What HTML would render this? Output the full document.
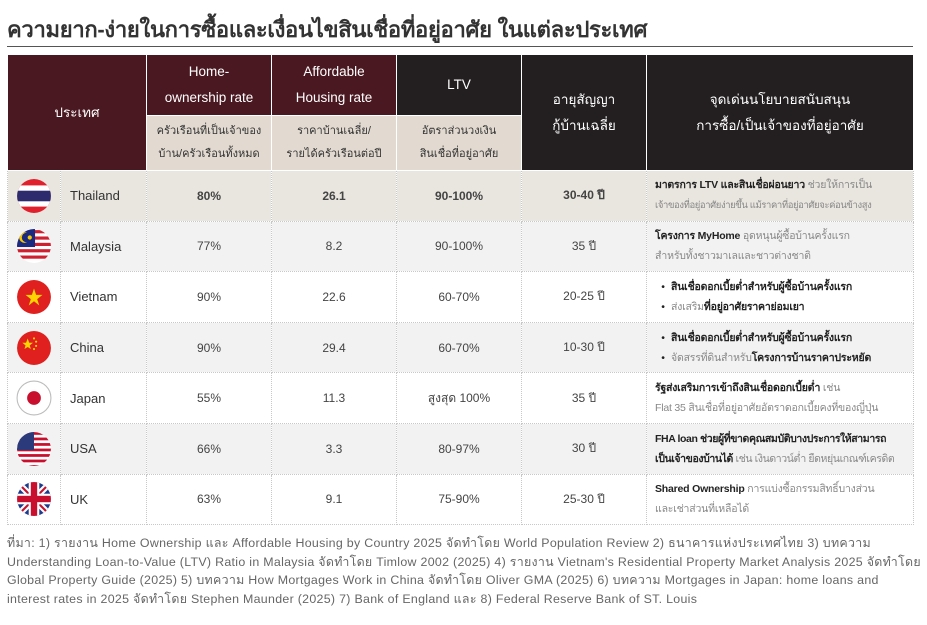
<!DOCTYPE html>
<html><head><meta charset="utf-8">
<style>
body{margin:0;width:927px;height:625px;background:#fff;font-family:"Liberation Sans","Noto Sans CJK SC",sans-serif;color:#333;position:relative;overflow:hidden}
.title{position:absolute;left:7px;top:12px;font-size:22px;font-weight:bold;color:#333;letter-spacing:-0.3px;white-space:nowrap}
.rule{position:absolute;left:7px;top:46px;width:906px;height:1px;background:#555}
table{position:absolute;left:7px;top:54px;border-collapse:collapse;table-layout:fixed;width:906px}
td{border:1px dotted #c8c8c8;text-align:center;font-size:12px;color:#444;padding:0;overflow:hidden;white-space:nowrap}
.hm{background:#4a1820;color:#fff;font-size:13.5px;line-height:26px;border:1px solid #fff}
.hd{background:#231f20;color:#fff;font-size:13.5px;line-height:26px;border:1px solid #fff}
.sub{background:#e2dad0;color:#333;font-size:11px;line-height:23px;border:1px solid #fff}
tr.r td{height:49.6px}
.pol{text-align:left;padding-left:8px;font-size:10.5px;line-height:20px;color:#888;letter-spacing:-0.2px}
.pol b{color:#222}
.th td{background:#e9e5df}
.g td{background:#f2f2f2}
.bul{display:block}
.bul:before{content:"•";color:#222;display:inline-block;width:16px;text-align:center}
.foot{position:absolute;left:7px;top:534px;width:918px;font-size:12.4px;letter-spacing:0.3px;line-height:18.7px;color:#666;white-space:nowrap}
svg{display:block;margin:auto}
.cn{text-align:left;padding-left:9px;color:#333;font-size:13px}
</style></head><body>
<div class="title">ความยาก-ง่ายในการซื้อและเงื่อนไขสินเชื่อที่อยู่อาศัย ในแต่ละประเทศ</div>
<div class="rule"></div>
<table>
<colgroup><col style="width:53px"><col style="width:86px"><col style="width:125px"><col style="width:125px"><col style="width:125px"><col style="width:125px"><col style="width:267px"></colgroup>
<tr style="height:61px"><td class="hm" colspan="2" rowspan="2">ประเทศ</td><td class="hm">Home-<br>ownership rate</td><td class="hm">Affordable<br>Housing rate</td><td class="hd">LTV</td><td class="hd" rowspan="2">อายุสัญญา<br>กู้บ้านเฉลี่ย</td><td class="hd" rowspan="2">จุดเด่นนโยบายสนับสนุน<br>การซื้อ/เป็นเจ้าของที่อยู่อาศัย</td></tr>
<tr style="height:55px"><td class="sub">ครัวเรือนที่เป็นเจ้าของ<br>บ้าน/ครัวเรือนทั้งหมด</td><td class="sub">ราคาบ้านเฉลี่ย/<br>รายได้ครัวเรือนต่อปี</td><td class="sub">อัตราส่วนวงเงิน<br>สินเชื่อที่อยู่อาศัย</td></tr>
<tr class="r th"><td><svg width="36" height="36" viewBox="0 0 34 34"><defs><clipPath id="c1"><circle cx="17" cy="17" r="16"/></clipPath></defs><g clip-path="url(#c1)"><rect width="34" height="34" fill="#e0202c"/><rect y="7" width="34" height="20" fill="#fff"/><rect y="12" width="34" height="10" fill="#2d2a6e"/></g></svg></td><td class="cn">Thailand</td><td><b>80%</b></td><td><b>26.1</b></td><td><b>90-100%</b></td><td><b>30-40 ปี</b></td><td class="pol"><b>มาตรการ LTV และสินเชื่อผ่อนยาว</b> ช่วยให้การเป็น<br><span style="font-size:9.5px;letter-spacing:-0.4px">เจ้าของที่อยู่อาศัยง่ายขึ้น แม้ราคาที่อยู่อาศัยจะค่อนข้างสูง</span></td></tr>
<tr class="r g"><td><svg width="36" height="36" viewBox="0 0 34 34"><defs><clipPath id="c2"><circle cx="17" cy="17" r="16"/></clipPath></defs><g clip-path="url(#c2)"><rect width="34" height="34" fill="#fff"/><rect y="2" width="34" height="3" fill="#d02030"/><rect y="8" width="34" height="3" fill="#d02030"/><rect y="14" width="34" height="3" fill="#d02030"/><rect y="20" width="34" height="3" fill="#d02030"/><rect y="26" width="34" height="3" fill="#d02030"/><rect width="18" height="18" fill="#1a2a80"/><circle cx="8" cy="9" r="5" fill="#f5c800"/><circle cx="10" cy="9" r="4.5" fill="#1a2a80"/><circle cx="13" cy="9" r="2" fill="#f5c800"/></g></svg></td><td class="cn">Malaysia</td><td>77%</td><td>8.2</td><td>90-100%</td><td>35 ปี</td><td class="pol"><b>โครงการ MyHome</b> อุดหนุนผู้ซื้อบ้านครั้งแรก<br>สำหรับทั้งชาวมาเลและชาวต่างชาติ</td></tr>
<tr class="r"><td><svg width="36" height="36" viewBox="0 0 34 34"><circle cx="17" cy="17" r="16" fill="#e0201e"/><polygon points="17,9 19,15 25,15 20,19 22,25 17,21 12,25 14,19 9,15 15,15" fill="#ffd400"/></svg></td><td class="cn">Vietnam</td><td>90%</td><td>22.6</td><td>60-70%</td><td>20-25 ปี</td><td class="pol"><span class="bul"><b>สินเชื่อดอกเบี้ยต่ำสำหรับผู้ซื้อบ้านครั้งแรก</b></span><span class="bul">ส่งเสริม<b>ที่อยู่อาศัยราคาย่อมเยา</b></span></td></tr>
<tr class="r g"><td><svg width="36" height="36" viewBox="0 0 34 34"><circle cx="17" cy="17" r="16" fill="#e0201e"/><polygon points="11,8 12.5,12 16,12 13,14.5 14,18 11,16 8,18 9,14.5 6,12 9.5,12" fill="#ffd400"/><circle cx="17" cy="8" r="1" fill="#ffd400"/><circle cx="19" cy="11" r="1" fill="#ffd400"/><circle cx="19" cy="15" r="1" fill="#ffd400"/><circle cx="17" cy="18" r="1" fill="#ffd400"/></svg></td><td class="cn">China</td><td>90%</td><td>29.4</td><td>60-70%</td><td>10-30 ปี</td><td class="pol"><span class="bul"><b>สินเชื่อดอกเบี้ยต่ำสำหรับผู้ซื้อบ้านครั้งแรก</b></span><span class="bul">จัดสรรที่ดินสำหรับ<b>โครงการบ้านราคาประหยัด</b></span></td></tr>
<tr class="r"><td><svg width="36" height="36" viewBox="0 0 34 34"><circle cx="17" cy="17" r="16" fill="#fff" stroke="#bbb"/><circle cx="17" cy="17" r="6.5" fill="#c8102e"/></svg></td><td class="cn">Japan</td><td>55%</td><td>11.3</td><td>สูงสุด 100%</td><td>35 ปี</td><td class="pol"><b>รัฐส่งเสริมการเข้าถึงสินเชื่อดอกเบี้ยต่ำ</b> เช่น<br>Flat 35 สินเชื่อที่อยู่อาศัยอัตราดอกเบี้ยคงที่ของญี่ปุ่น</td></tr>
<tr class="r g"><td><svg width="36" height="36" viewBox="0 0 34 34"><defs><clipPath id="c6"><circle cx="17" cy="17" r="16"/></clipPath></defs><g clip-path="url(#c6)"><rect width="34" height="34" fill="#fff"/><rect y="1" width="34" height="2.6" fill="#c8102e"/><rect y="6.2" width="34" height="2.6" fill="#c8102e"/><rect y="11.4" width="34" height="2.6" fill="#c8102e"/><rect y="16.6" width="34" height="2.6" fill="#c8102e"/><rect y="21.8" width="34" height="2.6" fill="#c8102e"/><rect y="27" width="34" height="2.6" fill="#c8102e"/><rect y="32.2" width="34" height="2.6" fill="#c8102e"/><rect width="17" height="18" fill="#2a3a7a"/></g></svg></td><td class="cn">USA</td><td>66%</td><td>3.3</td><td>80-97%</td><td>30 ปี</td><td class="pol" style="letter-spacing:-0.4px"><b>FHA loan ช่วยผู้ที่ขาดคุณสมบัติบางประการให้สามารถ<br>เป็นเจ้าของบ้านได้</b> เช่น เงินดาวน์ต่ำ ยืดหยุ่นเกณฑ์เครดิต</td></tr>
<tr class="r"><td><svg width="36" height="36" viewBox="0 0 34 34"><defs><clipPath id="c7"><circle cx="17" cy="17" r="16"/></clipPath></defs><g clip-path="url(#c7)"><rect width="34" height="34" fill="#1f3a8a"/><path d="M0 0L34 34M34 0L0 34" stroke="#fff" stroke-width="6"/><path d="M0 0L34 34M34 0L0 34" stroke="#c8102e" stroke-width="2"/><rect x="12" width="10" height="34" fill="#fff"/><rect y="12" width="34" height="10" fill="#fff"/><rect x="14" width="6" height="34" fill="#c8102e"/><rect y="14" width="34" height="6" fill="#c8102e"/></g></svg></td><td class="cn">UK</td><td>63%</td><td>9.1</td><td>75-90%</td><td>25-30 ปี</td><td class="pol"><b>Shared Ownership</b> การแบ่งซื้อกรรมสิทธิ์บางส่วน<br>และเช่าส่วนที่เหลือได้</td></tr>
</table>
<div class="foot">ที่มา: 1) รายงาน Home Ownership และ Affordable Housing by Country 2025 จัดทำโดย World Population Review 2) ธนาคารแห่งประเทศไทย 3) บทความ<br>Understanding Loan-to-Value (LTV) Ratio in Malaysia จัดทำโดย Timlow 2002 (2025) 4) รายงาน Vietnam's Residential Property Market Analysis 2025 จัดทำโดย<br>Global Property Guide (2025) 5) บทความ How Mortgages Work in China จัดทำโดย Oliver GMA (2025) 6) บทความ Mortgages in Japan: home loans and<br>interest rates in 2025 จัดทำโดย Stephen Maunder (2025) 7) Bank of England และ 8) Federal Reserve Bank of ST. Louis</div>
</body></html>
